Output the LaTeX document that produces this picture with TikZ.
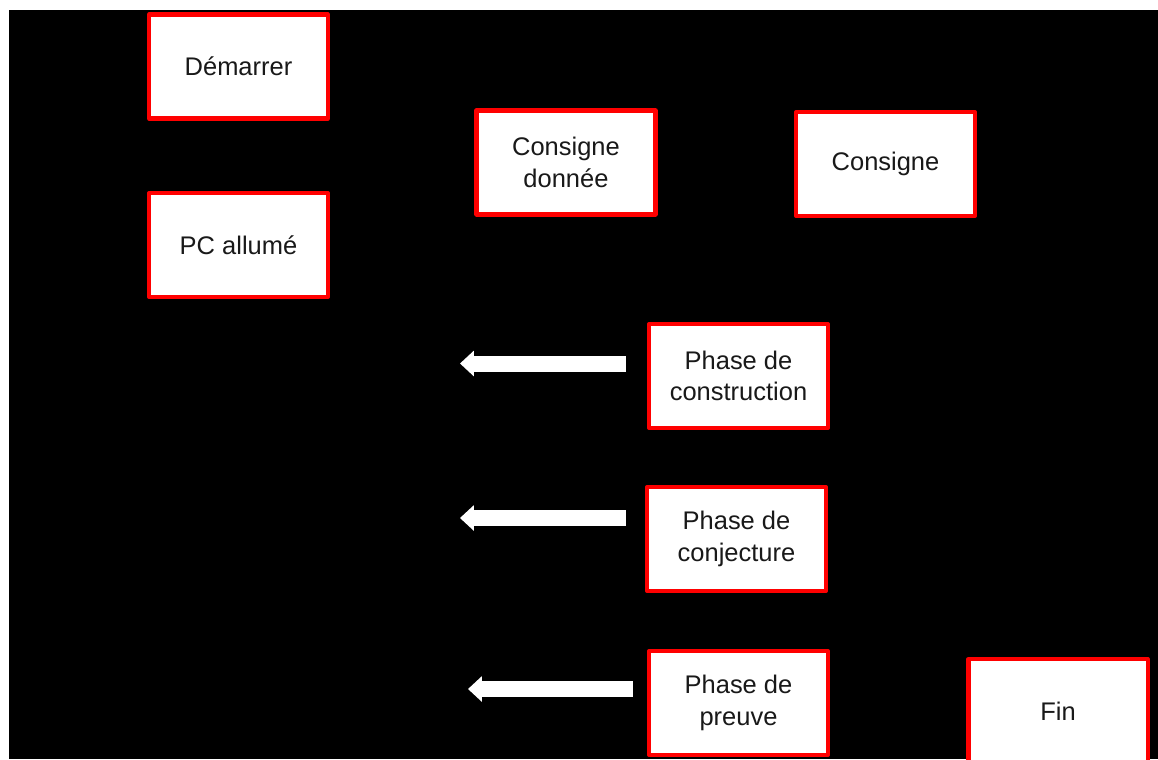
\documentclass[tikz,border=0pt]{standalone}
\usepackage{fontspec}
\setmainfont{Liberation Sans}
\usetikzlibrary{arrows.meta}
\begin{document}
\begin{tikzpicture}[font=\fontsize{14.5}{18}\selectfont, line join=round,
	etape/.style={draw=red, fill=white, text=black!90, line width=2.3pt, minimum width=3.58cm, minimum height=2.08cm, align=center, inner sep=0pt},
	fleche/.style={white, line width=0.32cm, -{Triangle[length=0.28cm,width=0.5cm]}}]
	\useasboundingbox (0,0) rectangle (23.16,-15.18);
	\fill[black] (0.18,-0.2) rectangle (23.16,-15.18);
	% colonne de gauche
	\node[etape] (dem) at (4.77,-1.33) {Démarrer};
	\node[etape] (pc) at (4.77,-4.90) {PC allumé};
	% consignes
	\node[etape] (cdonnee) at (11.32,-3.25) {Consigne\\donnée};
	\node[etape] (consigne) at (17.71,-3.28) {Consigne};
	% phases
	\node[etape] (constr) at (14.77,-7.52) {Phase de\\construction};
	\node[etape] (conj) at (14.73,-10.78) {Phase de\\conjecture};
	\node[etape] (preuve) at (14.77,-14.06) {Phase de\\preuve};
	\node[etape] (fin) at (21.16,-14.22) {Fin};
	% fleches blanches
	\coordinate (constr-d) at ([shift={(-0.42,0.25)}]constr.west);
	\coordinate (constr-g) at ([xshift=-3.32cm]constr-d);
	\coordinate (conj-d) at ([shift={(-0.38,0.42)}]conj.west);
	\coordinate (conj-g) at ([xshift=-3.32cm]conj-d);
	\coordinate (preuve-d) at ([shift={(-0.28,0.28)}]preuve.west);
	\coordinate (preuve-g) at ([xshift=-3.3cm]preuve-d);
	\draw[fleche] (constr-d) -- (constr-g);
	\draw[fleche] (conj-d) -- (conj-g);
	\draw[fleche] (preuve-d) -- (preuve-g);
\end{tikzpicture}
\end{document}
